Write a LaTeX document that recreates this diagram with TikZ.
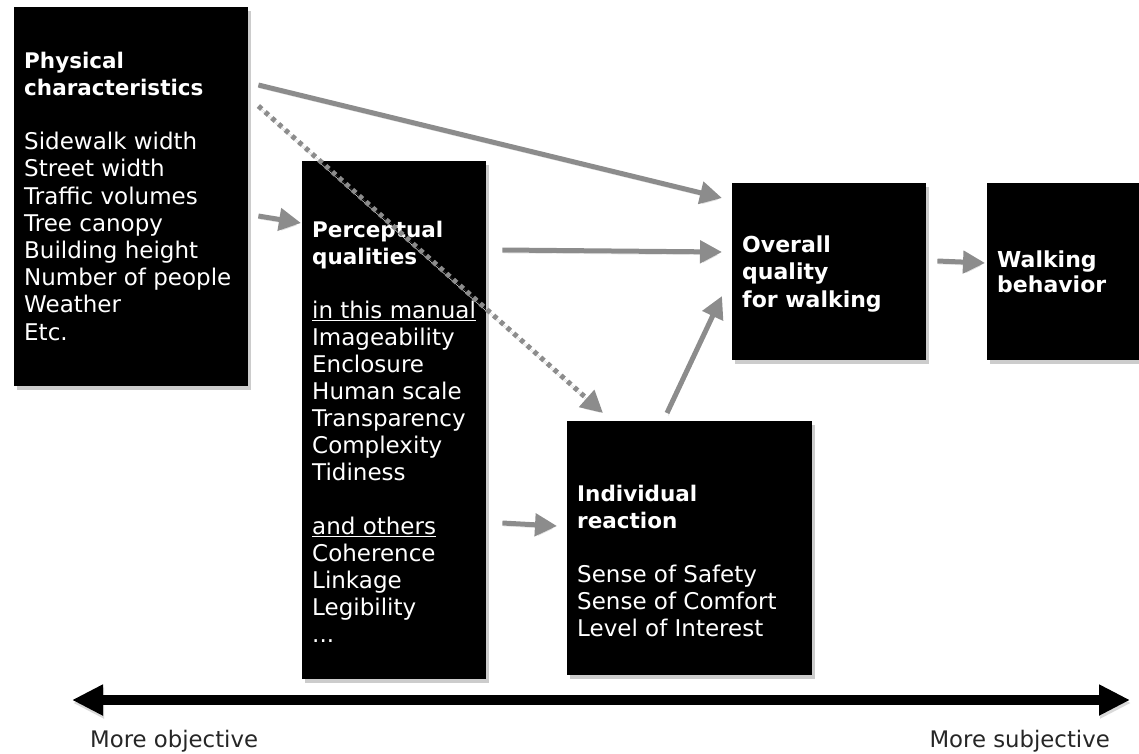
\documentclass[tikz,border=0pt]{standalone}
\usepackage{fontspec}
\setmainfont{DejaVu Sans}
\usepackage{tikz}
\usetikzlibrary{arrows.meta,shadows}
\newcommand{\boxtitle}[1]{{\fontsize{21.5}{27}\selectfont\bfseries #1}}
\tikzstyle{node:box}=[rectangle,fill=black,anchor=north west,inner sep=0pt,drop shadow={shadow xshift=3pt,shadow yshift=-4pt,opacity=0.4}]
\tikzstyle{node:text}=[text=white,anchor=north west,align=left,inner sep=0pt,font=\fontsize{23}{27.2}\selectfont]
\tikzstyle{node:axislabel}=[text=black!85,inner sep=0pt,anchor=base,font=\fontsize{22.8}{26}\selectfont]
\tikzstyle{draw:flow}=[-{Triangle[length=22pt,width=22pt]},line width=5pt,draw=black!45,fill=black!45,preaction={draw=black!12,fill=black!12,transform canvas={shift={(1pt,-3pt)}}}]
\tikzstyle{draw:hint}=[draw:flow,dash pattern=on 4.5pt off 4.5pt]
\tikzstyle{draw:axis}=[{Triangle[length=31pt,width=29pt]}-{Triangle[length=31pt,width=29pt]},line width=10pt,preaction={draw=black!15,transform canvas={shift={(1pt,-3pt)}}}]

\begin{document}
\begin{tikzpicture}[x=1pt,y=-1pt]
        \useasboundingbox (0,0) rectangle (1139,753);

        % Black boxes
        \node[node:box,minimum width=234pt,minimum height=379pt] (phys) at (14,7) {};
        \node[node:box,minimum width=184pt,minimum height=518pt] (percep) at (302,161) {};
        \node[node:box,minimum width=245pt,minimum height=254pt] (react) at (567,421) {};
        \node[node:box,minimum width=194pt,minimum height=177pt] (overall) at (732,183) {};
        \node[node:box,minimum width=170pt,minimum height=177pt] (walk) at (987,183) {};

        % Texts inside the boxes (top of first line = baseline - 16.5)
        \node[node:text] (phys-text) at (24,51.5) {\boxtitle{Physical}\\\boxtitle{characteristics}\\[\baselineskip]Sidewalk width\\Street width\\Traffic volumes\\Tree canopy\\Building height\\Number of people\\Weather\\Etc.};
        \node[node:text,font=\fontsize{23}{27}\selectfont] (percep-text) at (312,220.5) {\boxtitle{Perceptual}\\\boxtitle{qualities}\\[\baselineskip]\underline{in this manual}\\Imageability\\Enclosure\\Human scale\\Transparency\\Complexity\\Tidiness\\[\baselineskip]\underline{and others}\\Coherence\\Linkage\\Legibility\\...};
        \node[node:text,font=\fontsize{23}{27}\selectfont] (react-text) at (577,484.5) {\boxtitle{Individual}\\\boxtitle{reaction}\\[\baselineskip]Sense of Safety\\Sense of Comfort\\Level of Interest};
        \node[node:text,font=\fontsize{22}{27.5}\selectfont] (overall-text) at (742,235.5) {\textbf{Overall}\\\textbf{quality}\\\textbf{for walking}};
        \node[node:text,font=\fontsize{22}{25}\selectfont] (walk-text) at (997,250.5) {\textbf{Walking}\\\textbf{behavior}};

        % Gray arrows between the boxes
        \draw[draw:flow] ([shift={(10,78)}]phys.north east) -- ([shift={(-10,15)}]overall.north west);
        \draw[draw:hint] ([shift={(10,99)}]phys.north east) -- ([shift={(36,-8)}]react.north west);
        \draw[draw:flow] ([shift={(10,209)}]phys.north east) -- ([shift={(-1,62)}]percep.north west);
        \draw[draw:flow] ([shift={(16,89)}]percep.north east) -- ([shift={(-10,69)}]overall.north west);
        \draw[draw:flow] ([shift={(16,362)}]percep.north east) -- ([shift={(-10,105)}]react.north west);
        \draw[draw:flow] ([shift={(100,-8)}]react.north west) -- ([shift={(-10,113)}]overall.north west);
        \draw[draw:flow] ([shift={(11,78)}]overall.north east) -- ([shift={(-2,80)}]walk.north west);

        % Objective / subjective axis
        \coordinate (obj) at (72,700);
        \coordinate (subj) at (1130,700);
        \draw[draw:axis] (obj) -- (subj);
        \node[node:axislabel,anchor=base west] (obj-label) at (90,747) {More objective};
        \node[node:axislabel,anchor=base east] (subj-label) at (1110,747) {More subjective};
    \end{tikzpicture}
\end{document}
